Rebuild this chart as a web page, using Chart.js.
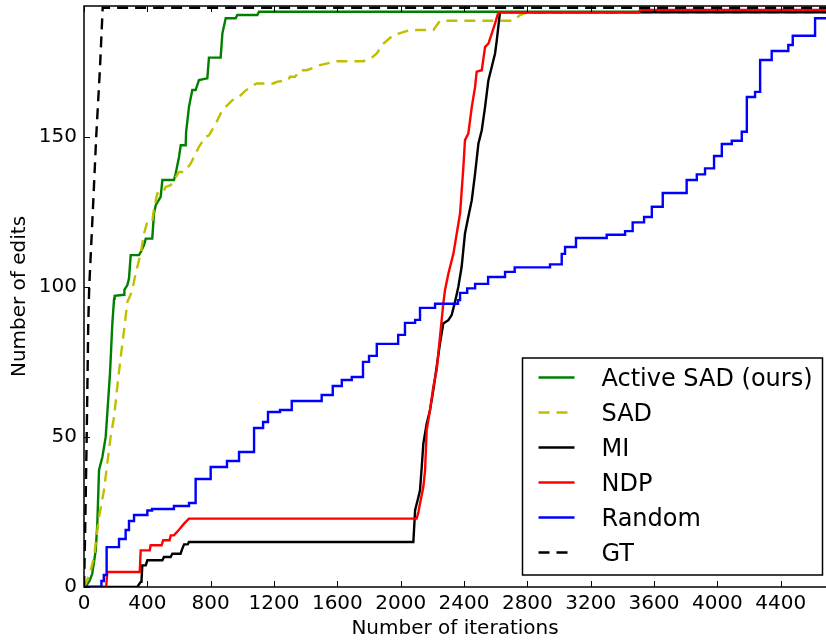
<!DOCTYPE html>
<html lang="en">
<head>
<meta charset="UTF-8" />
<title>Number of edits vs. iterations</title>
<script src="https://cdn.jsdelivr.net/npm/chart.js"></script>
<style>
  html, body { margin: 0; padding: 0; background: #fff; }
  #wrap { width: 826px; height: 641px; }
</style>
</head>
<body>
<div id="wrap"><canvas id="editsChart" width="826" height="641"></canvas></div>
<script>
  // axis ranges and tick labels
  const X_MAX = 4686;
  const Y_MAX = 193.6;
  const xTicks = [0, 400, 800, 1200, 1600, 2000, 2400, 2800, 3200, 3600, 4000, 4400];
  const yTicks = [0, 50, 100, 150];

  // Active SAD (ours) - polyline vertices
  const activeX = [0, 15, 21, 35, 52, 74, 84, 95, 116, 137, 147, 164, 179, 190, 194, 253, 255, 274, 284, 295, 347, 358, 379, 390, 431, 442, 453, 484, 495, 568, 579, 600, 611, 642, 645, 663, 684, 705, 726, 779, 789, 863, 874, 895, 958, 968, 1095, 1105, X_MAX];
  const activeY = [0, 0, 1, 2, 4.4, 12.2, 21, 39, 43.3, 50, 57.8, 71, 87.8, 96.1, 97, 97.4, 99, 100.6, 102.8, 110.6, 110.6, 111.6, 113.9, 116.1, 116.1, 124.5, 127.2, 130, 135.6, 135.6, 137.8, 143.3, 147.2, 147.2, 151.7, 160, 165.6, 165.6, 168.9, 169.5, 176.4, 176.4, 184.5, 189.5, 189.5, 190.6, 190.6, 191.7, 191.7];

  // SAD
  const sadX = [0, 11, 40, 63, 95, 126, 168, 190, 210, 232, 253, 274, 295, 305, 326, 358, 379, 400, 431, 442, 463, 495, 516, 547, 568, 600, 632, 674, 726, 768, 789, 832, 863, 884, 937, 979, 1011, 1053, 1090, 1196, 1217, 1290, 1301, 1333, 1364, 1408, 1490, 1596, 1764, 1817, 1849, 1891, 1954, 2059, 2206, 2249, 2710, 2754, 2800, X_MAX];
  const sadY = [0, 1.1, 5, 10, 23.3, 32.2, 50, 56.7, 66.7, 76.7, 85.6, 95, 97.5, 99, 104.4, 111.1, 117.8, 121.7, 121.7, 126.1, 131.1, 131.1, 133.3, 133.9, 135.6, 138.3, 138.3, 141.1, 146.7, 150, 150.5, 154.4, 157.8, 159.4, 162.2, 163.3, 165, 166.7, 167.8, 167.8, 168.3, 169, 170, 170, 172.2, 172.2, 173.9, 175.2, 175.2, 176.4, 177.8, 181.1, 183.9, 185.6, 185.6, 188.7, 188.7, 190.6, 191.5, 191.5];

  // MI
  const miX = [0, 337, 358, 363, 368, 390, 400, 495, 505, 547, 558, 610, 621, 632, 655, 663, 2080, 2091, 2112, 2122, 2133, 2143, 2164, 2185, 2206, 2227, 2248, 2269, 2301, 2322, 2343, 2364, 2385, 2406, 2427, 2449, 2470, 2491, 2512, 2533, 2554, 2575, 2596, 2607, 2627, X_MAX];
  const miY = [0, 0, 1.7, 1.7, 7.2, 7.2, 8.9, 8.9, 10, 10, 11.1, 11.1, 12.8, 14.2, 14.2, 15, 15, 25.6, 30, 32.2, 40, 47.8, 54.4, 58.9, 65.6, 73.3, 81.1, 87.8, 88.9, 90.6, 95, 100, 106.7, 117.8, 123.3, 128.9, 137.8, 147.8, 152.2, 160, 168.9, 173.3, 177.8, 182.2, 191.5, 191.5];

  // NDP
  const ndpX = [0, 140, 147, 352, 358, 415, 421, 490, 500, 540, 548, 568, 600, 632, 663, 2101, 2112, 2122, 2143, 2154, 2164, 2185, 2206, 2227, 2248, 2269, 2280, 2301, 2333, 2354, 2375, 2396, 2406, 2427, 2449, 2470, 2480, 2512, 2533, 2554, 2575, 2596, 2617, 3505, 3512, X_MAX];
  const ndpY = [0, 0, 5, 5, 12.2, 12.2, 13.9, 13.9, 15.6, 15.6, 17.2, 17.2, 19.1, 21.1, 22.8, 22.8, 25, 27.8, 33.3, 38.9, 52.2, 58.9, 66.7, 72.2, 83.3, 94.4, 99, 104.4, 111.1, 117.8, 124.5, 140, 148.9, 151.1, 160, 166.7, 171.7, 172.2, 180, 181.1, 184.4, 187.8, 191.5, 191.5, 192.3, 192.3];

  // Random - level starts (drawn as steps)
  const randX = [0, 110, 125, 143, 221, 263, 284, 316, 400, 430, 568, 663, 705, 800, 903, 979, 1074, 1131, 1162, 1238, 1312, 1501, 1571, 1628, 1691, 1762, 1800, 1849, 1984, 2027, 2091, 2122, 2217, 2362, 2375, 2420, 2470, 2552, 2659, 2720, 2943, 3017, 3038, 3107, 3301, 3417, 3465, 3537, 3586, 3655, 3806, 3870, 3922, 3979, 4028, 4091, 4154, 4186, 4238, 4270, 4343, 4448, 4476, 4617, X_MAX];
  const randY = [0, 2, 4, 13.3, 16, 19, 22, 24, 25.5, 26, 27, 28, 36, 40, 42, 45, 53, 55, 58.3, 59, 62, 64, 67, 69, 70, 75, 77, 81, 84, 88, 89, 93, 94.4, 95.6, 98, 99.5, 101, 103.3, 105, 106.5, 107.5, 111, 113.3, 116.3, 117.4, 118.6, 121.5, 123.3, 126.7, 131.3, 135.6, 137.5, 139.5, 143.6, 147.6, 148.7, 151.7, 163.3, 165, 175.6, 178.6, 180.6, 183.7, 189.5, 189.5];

  // GT
  const gtX = [0, 4, 8, 17, 27, 33, 59, 77, 101, 118, X_MAX];
  const gtY = [0, 10, 21, 50, 88, 100, 129, 150, 173, 193, 193];

  const pts = (xs, ys) => xs.map((v, i) => ({ x: v, y: ys[i] }));

  // inward ticks and spines, matplotlib classic look
  const frame = {
    id: 'frame',
    afterDatasetsDraw(chart) {
      const { ctx, chartArea: a, scales: { x, y } } = chart;
      ctx.save();
      ctx.strokeStyle = '#000';
      ctx.lineWidth = 1;
      ctx.beginPath();
      x.ticks.forEach(t => {
        const px = Math.round(x.getPixelForValue(t.value)) + 0.5;
        ctx.moveTo(px, a.bottom); ctx.lineTo(px, a.bottom - 6);
        ctx.moveTo(px, a.top); ctx.lineTo(px, a.top + 6);
      });
      y.ticks.forEach(t => {
        const py = Math.round(y.getPixelForValue(t.value)) + 0.5;
        ctx.moveTo(a.left, py); ctx.lineTo(a.left + 6, py);
      });
      ctx.stroke();
      ctx.lineWidth = 1.5;
      ctx.beginPath();
      ctx.moveTo(a.right + 2, a.top);
      ctx.lineTo(a.left, a.top);
      ctx.lineTo(a.left, a.bottom);
      ctx.lineTo(a.right + 2, a.bottom);
      ctx.stroke();
      ctx.restore();
    }
  };

  // boxed legend in the lower right of the plot
  const boxLegend = {
    id: 'boxLegend',
    afterDraw(chart, args, o) {
      const { ctx, chartArea: a } = chart;
      const bx = a.right - o.right - o.width;
      const by = a.bottom - o.bottom - o.height;
      ctx.save();
      ctx.fillStyle = '#fff';
      ctx.fillRect(bx, by, o.width, o.height);
      ctx.strokeStyle = '#000';
      ctx.lineWidth = 1.5;
      ctx.strokeRect(bx, by, o.width, o.height);
      ctx.font = '24px "DejaVu Sans"';
      ctx.textBaseline = 'alphabetic';
      chart.data.datasets.forEach((ds, i) => {
        const ry = by + o.rowTop + i * o.rowGap;
        ctx.strokeStyle = ds.borderColor;
        ctx.lineWidth = ds.borderWidth;
        ctx.setLineDash(ds.borderDash || []);
        ctx.beginPath();
        ctx.moveTo(bx + o.lineX, ry);
        ctx.lineTo(bx + o.lineX + o.lineLen, ry);
        ctx.stroke();
        ctx.setLineDash([]);
        ctx.fillStyle = '#000';
        ctx.fillText(ds.label, bx + o.textX, ry + 8.7);
      });
      ctx.restore();
    }
  };

  const line = (label, xs, ys, color, order, extra) => Object.assign({
    label, data: pts(xs, ys), borderColor: color, borderWidth: 2.4,
    pointRadius: 0, fill: false, stepped: false, order
  }, extra || {});

  Chart.defaults.font.family = '"DejaVu Sans"';
  Chart.defaults.color = '#000';

  new Chart(document.getElementById('editsChart'), {
    type: 'line',
    data: {
      datasets: [
        line('Active SAD (ours)', activeX, activeY, '#008000', 5),
        line('SAD', sadX, sadY, '#bfbf00', 4, { borderDash: [11, 7] }),
        line('MI', miX, miY, '#000000', 3),
        line('NDP', ndpX, ndpY, '#ff0000', 2),
        line('Random', randX, randY, '#0000ff', 1, { stepped: true }),
        line('GT', gtX, gtY, '#000000', 0, { borderDash: [11, 7] })
      ]
    },
    options: {
      responsive: false,
      devicePixelRatio: 1,
      animation: false,
      layout: { padding: { top: 6, right: 0, left: 0, bottom: 0 } },
      plugins: {
        legend: { display: false },
        tooltip: { enabled: false },
        boxLegend: { width: 300, height: 217, right: 3.5, bottom: 12, rowTop: 19.5, rowGap: 35, lineX: 16, lineLen: 36, textX: 79 }
      },
      scales: {
        x: {
          type: 'linear',
          min: 0,
          max: X_MAX,
          grid: { display: false, drawTicks: false },
          border: { display: false },
          ticks: { font: { size: 20 }, padding: 5, autoSkip: false, maxRotation: 0, callback: v => String(v) },
          afterBuildTicks: s => { s.ticks = xTicks.map(v => ({ value: v })); },
          afterFit: s => { s.height = 54; s.paddingLeft = 0; s.paddingRight = 0; },
          title: { display: true, text: 'Number of iterations', font: { size: 20 }, padding: { top: 0, bottom: 0 } }
        },
        y: {
          type: 'linear',
          min: 0,
          max: Y_MAX,
          grid: { display: false, drawTicks: false },
          border: { display: false },
          ticks: { font: { size: 20 }, padding: 7, autoSkip: false, callback: v => String(v) },
          afterBuildTicks: s => { s.ticks = yTicks.map(v => ({ value: v })); },
          afterFit: s => { s.width = 84; s.paddingTop = 0; s.paddingBottom = 0; },
          title: { display: true, text: 'Number of edits', font: { size: 20 }, padding: { top: 8, bottom: 0 } }
        }
      }
    },
    plugins: [frame, boxLegend]
  });
</script>
</body>
</html>
